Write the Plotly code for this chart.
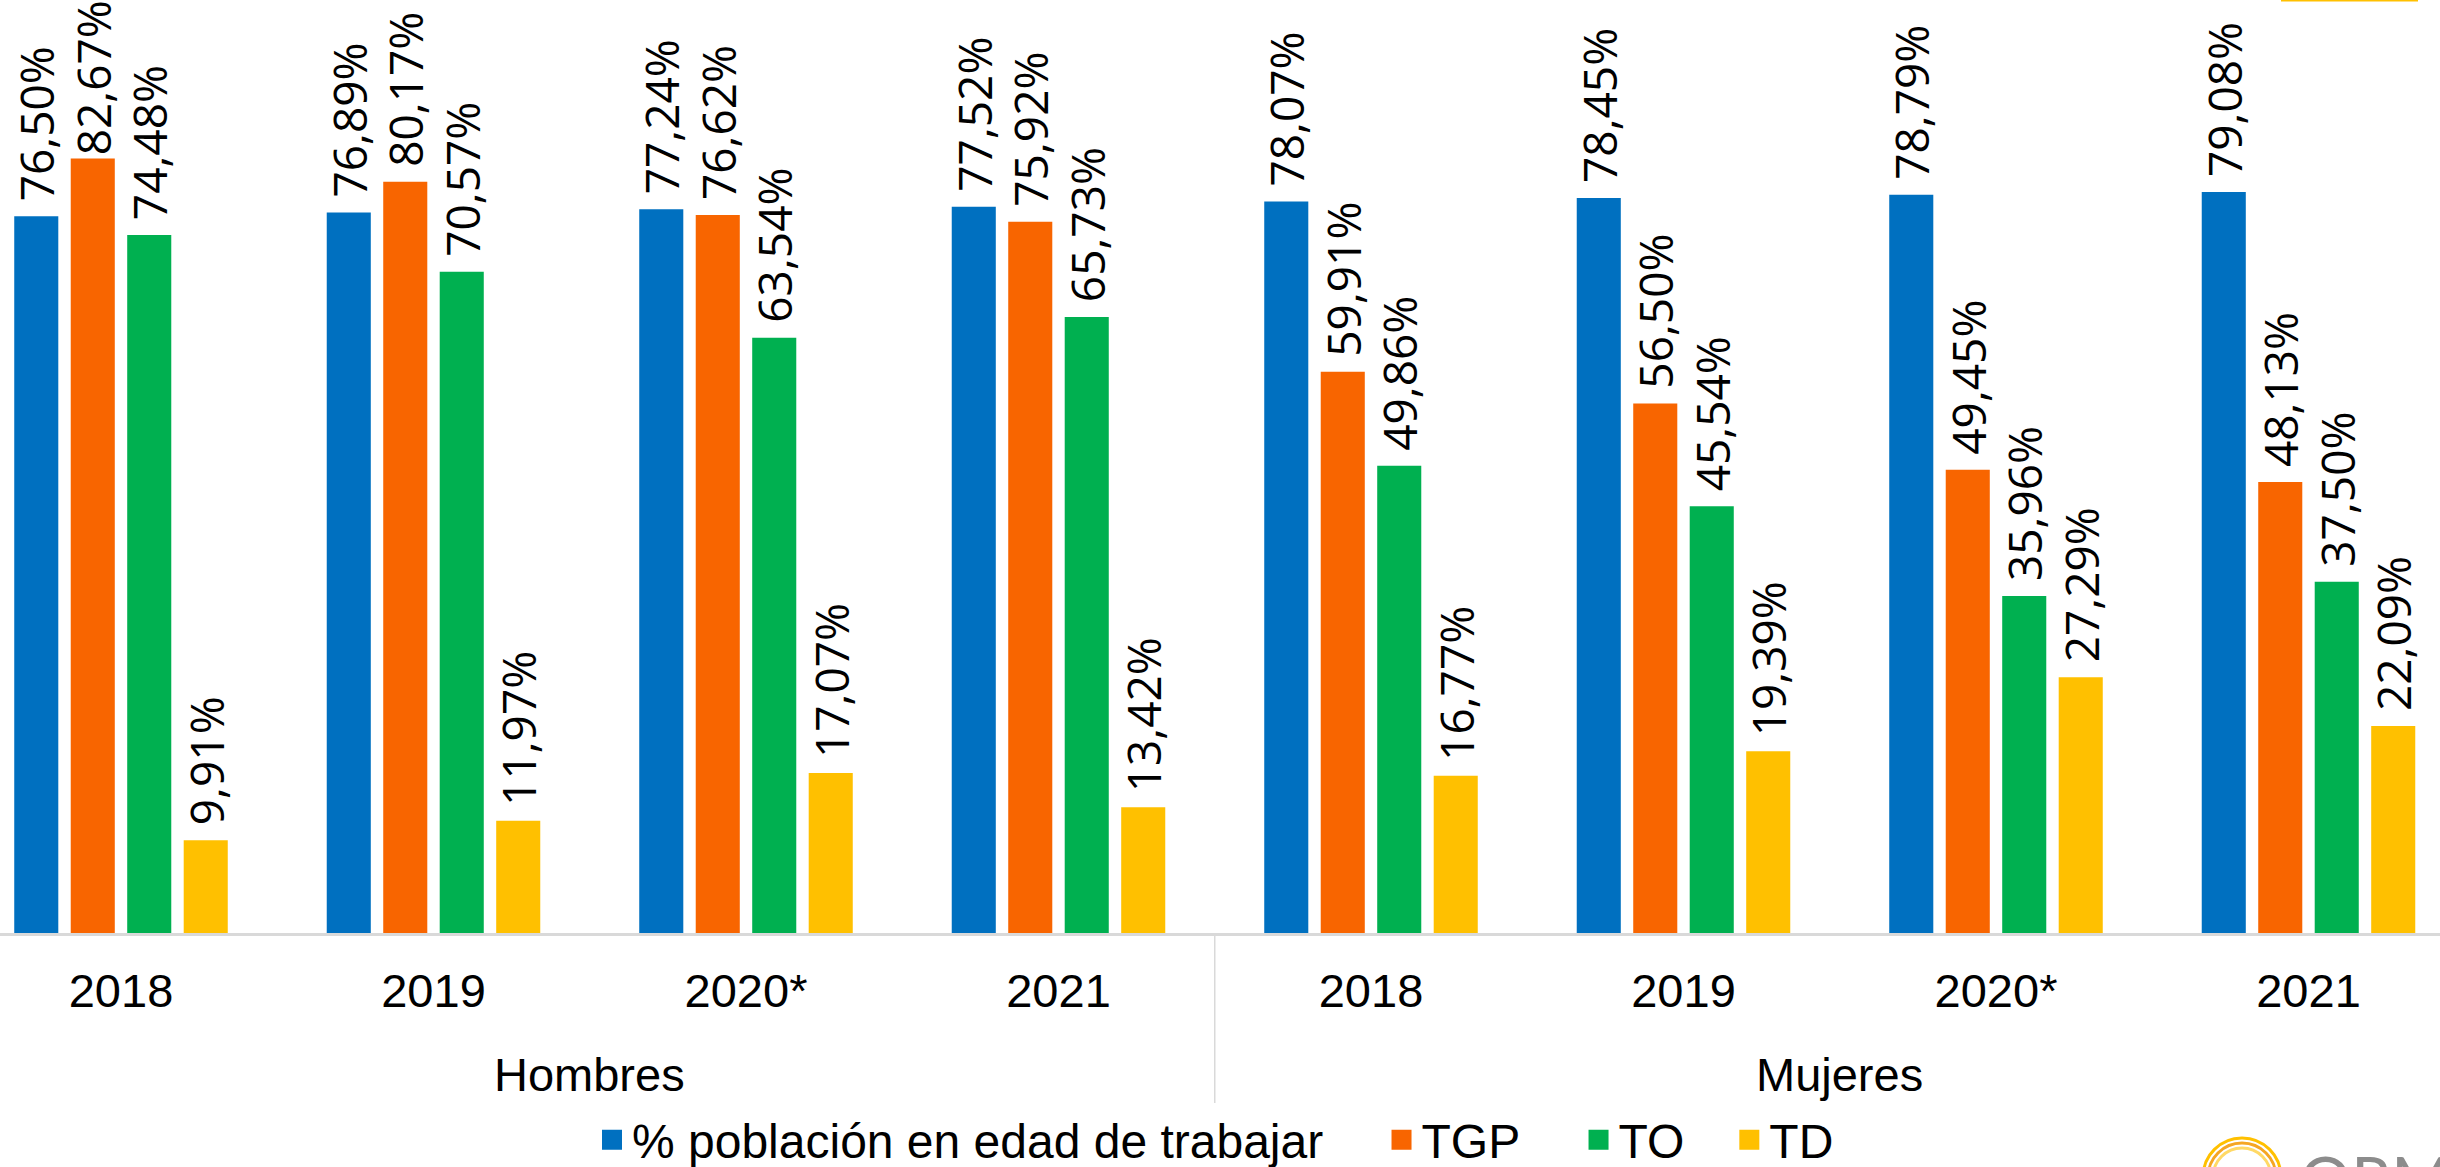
import plotly.graph_objects as go

groups = ["Hombres", "Mujeres"]
years = ["2018", "2019", "2020*", "2021"]
series_names = ["% población en edad de trabajar", "TGP", "TO", "TD"]
pet = [76.50, 76.89, 77.24, 77.52, 78.07, 78.45, 78.79, 79.08]
tgp = [82.67, 80.17, 76.62, 75.92, 59.91, 56.50, 49.45, 48.13]
to_ = [74.48, 70.57, 63.54, 65.73, 49.86, 45.54, 35.96, 37.50]
td = [9.91, 11.97, 17.07, 13.42, 16.77, 19.39, 27.29, 22.09]
colors = ["#0070C0", "#F86500", "#00B050", "#FFC000"]

W, H = 2440, 1200             # taller than the window so the legend never pushes margins
AXIS_PX = 933                 # axis line position from the top
PH = AXIS_PX
B = H - PH
PX_PER_UNIT = 9.37
YMAX = PH / PX_PER_UNIT
LABEL_SIZE = 46
LABEL_LEN = 155 / PX_PER_UNIT   # approx. length of a rotated label, data units
GAP = 16 / PX_PER_UNIT          # extra gap given by a leading space


def py(img_y):
    return (AXIS_PX - img_y) / PH


def px(img_x):
    return img_x / W


n_cat = len(groups) * len(years)
xs = list(range(n_cat))
ticktext = years * len(groups)


def fmt(v):
    s = f"{v:.2f}%".replace(".", ",")
    # like the original, labels sit a little above the bar unless there is no room
    if v + GAP + LABEL_LEN <= YMAX:
        s = "\u00a0" + s
    return s


fig = go.Figure()
for name, vals, col in zip(series_names, [pet, tgp, to_, td], colors):
    fig.add_trace(go.Bar(
        x=xs, y=vals, name=name, showlegend=False,
        marker=dict(color=col, line=dict(width=0)),
        text=[fmt(v) for v in vals],
        textposition="outside",
        textangle=-90,
        constraintext="none",
        cliponaxis=False,
        textfont=dict(family="Open Sans", size=LABEL_SIZE, color="#000000"),
        hoverinfo="skip",
    ))

# legend entries (square swatches)
pads = [4, 4, 3, 0]
legend_labels = [n + "\u00a0" * p for n, p in zip(series_names, pads)]
for lab, col in zip(legend_labels, colors):
    fig.add_trace(go.Scatter(x=[None], y=[None], mode="markers", name=lab,
                             marker=dict(symbol="square", size=16, color=col,
                                         line=dict(color=col, width=4)),
                             hoverinfo="skip"))

cat_px = 312.5
first_center = 121
x0 = (0 - first_center) / cat_px
x1 = (W - first_center) / cat_px

fig.update_layout(
    width=W, height=H,
    margin=dict(l=0, r=0, t=0, b=B, pad=0),
    paper_bgcolor="white", plot_bgcolor="white",
    barmode="group", bargap=0.277, bargroupgap=0.22,
    showlegend=True,
    legend=dict(
        orientation="h", x=px(592), xanchor="left", y=py(1140), yanchor="middle",
        font=dict(family="Liberation Sans", size=48, color="#000000"),
        bgcolor="rgba(0,0,0,0)", traceorder="normal", itemsizing="trace",
    ),
    font=dict(family="Liberation Sans", color="#000000"),
)

fig.update_xaxes(
    range=[x0, x1], tickmode="array", tickvals=xs, ticktext=ticktext,
    showgrid=False, zeroline=False, automargin=False,
    showline=True, linecolor="#D9D9D9", linewidth=2.5,
    ticks="outside", ticklen=15, tickcolor="rgba(0,0,0,0)",
    tickfont=dict(family="Liberation Sans", size=47, color="#000000"),
)
fig.update_yaxes(range=[0, YMAX], visible=False, showgrid=False, zeroline=False)

# group labels
for gi, g in enumerate(groups):
    center = gi * len(years) + (len(years) - 1) / 2
    fig.add_annotation(x=center, xref="x", y=py(1074), yref="paper",
                       text=g, showarrow=False, yanchor="middle",
                       font=dict(family="Liberation Sans", size=47, color="#000000"))

# divider between groups
for gi in range(1, len(groups)):
    xd = gi * len(years) - 0.5
    fig.add_shape(type="line", xref="x", yref="paper", x0=xd, x1=xd,
                  y0=0, y1=py(1103), line=dict(color="#D9D9D9", width=1.5))

# logo decoration (bottom right) and thin yellow line at top right
cx, cy, r = px(2242), py(1177), 39
for k, c in enumerate(["#FFC000", "#F5A623", "#FFD966"]):
    rr = r - k * 5
    fig.add_shape(type="circle", xref="paper", yref="paper",
                  x0=cx - rr / W, x1=cx + rr / W, y0=cy - rr / PH, y1=cy + rr / PH,
                  line=dict(color=c, width=3))
fig.add_annotation(x=px(2298), xref="paper", y=py(1138), yref="paper",
                   text="ORMET", showarrow=False, xanchor="left", yanchor="top",
                   font=dict(family="Lato", size=64, color="#8C8C8C"))
fig.add_shape(type="line", xref="paper", yref="paper", x0=px(2281), x1=px(2418),
              y0=1, y1=1, line=dict(color="#FFC000", width=3))

fig.write_html("out.html", config={"displayModeBar": False},
               post_script="document.body.style.margin='0px';")
